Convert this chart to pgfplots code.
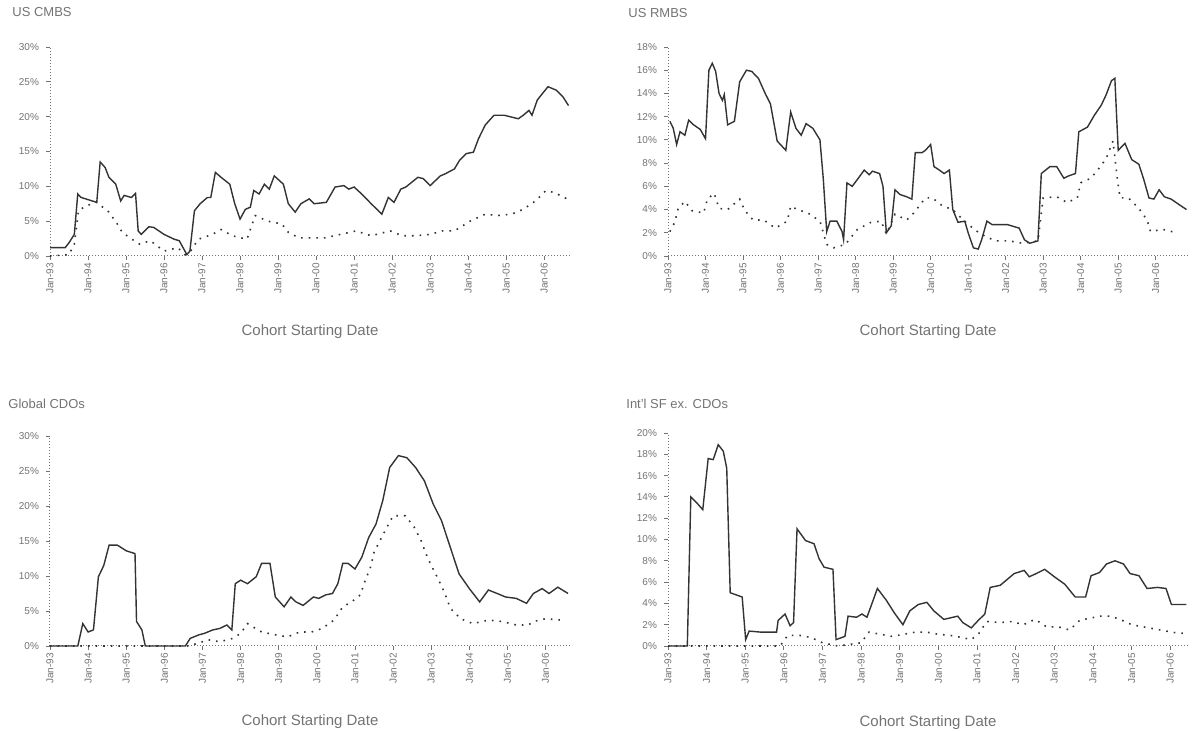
\documentclass[border=0pt]{standalone}
\usepackage{pgfplots}
\pgfplotsset{compat=1.18}
\usepackage{fontspec}
\setmainfont{Liberation Sans}
\definecolor{txt}{gray}{0.45}
\definecolor{ln}{gray}{0.2}
\pgfplotsset{
  panel/.style={
    scale only axis, width=260pt, anchor=north west,
    xmin=1993,
    axis x line=bottom, axis y line=left,
    axis line style={-, black!55, densely dotted, line width=0.5pt},
    tick style={black!55, line width=0.4pt},
    major tick length=2pt, tick align=outside,
    xtick={1993,...,2006},
    xticklabels={Jan-93,Jan-94,Jan-95,Jan-96,Jan-97,Jan-98,Jan-99,Jan-00,Jan-01,Jan-02,Jan-03,Jan-04,Jan-05,Jan-06},
    x tick label style={rotate=90, anchor=east, font=\fontsize{5}{6}\selectfont, text=txt, inner sep=1.5pt},
    y tick label style={font=\fontsize{5}{6}\selectfont, text=txt},
    xlabel={Cohort Starting Date},
    xlabel style={at={(axis description cs:0.5,-0.36)}, anchor=center, font=\fontsize{7.5}{8.5}\selectfont, text=txt},
    clip=false,
  },
  s1/.style={ln, line width=0.7pt},
  s2/.style={ln, line width=0.8pt, dash pattern=on 0.8pt off 3pt},
}
\begin{document}
\begin{tikzpicture}
\useasboundingbox (0,0) rectangle (597pt,-365.5pt);
% ---------------- US CMBS ----------------
\node[anchor=north west, font=\fontsize{6.5}{7.5}\selectfont, text=txt, inner sep=0pt] at (6pt,-3.5pt) {US CMBS};
\begin{axis}[panel, at={(25pt,-23.5pt)}, height=104.5pt, xmax=2006.68, ymin=0, ymax=30,
  ytick={0,5,10,15,20,25,30}, yticklabels={0\%,5\%,10\%,15\%,20\%,25\%,30\%}]
\addplot[s1] coordinates {(1993,1.2)(1993.4,1.2)(1993.5,1.9)(1993.64,3.1)(1993.73,8.9)(1993.82,8.4)(1994.23,7.7)(1994.32,13.5)(1994.45,12.7)(1994.55,11.3)(1994.73,10.3)(1994.86,7.9)(1994.95,8.7)(1995.14,8.4)(1995.25,9.0)(1995.32,3.6)(1995.4,3.1)(1995.6,4.2)(1995.73,4.1)(1996.0,3.1)(1996.27,2.4)(1996.4,2.2)(1996.5,1.2)(1996.6,0.2)(1996.68,0.7)(1996.8,6.5)(1996.95,7.5)(1997.14,8.4)(1997.23,8.4)(1997.35,12.0)(1997.5,11.3)(1997.73,10.3)(1997.86,7.5)(1998.0,5.3)(1998.14,6.7)(1998.27,7.0)(1998.36,9.4)(1998.5,8.9)(1998.64,10.3)(1998.77,9.6)(1998.9,11.5)(1999.14,10.3)(1999.27,7.5)(1999.45,6.3)(1999.6,7.5)(1999.82,8.2)(1999.95,7.5)(2000.27,7.7)(2000.5,9.9)(2000.73,10.1)(2000.86,9.6)(2001.0,9.9)(2001.2,8.9)(2001.45,7.5)(2001.73,6.0)(2001.9,8.4)(2002.05,7.7)(2002.23,9.6)(2002.36,9.9)(2002.68,11.3)(2002.82,11.1)(2003.0,10.1)(2003.27,11.5)(2003.4,11.8)(2003.64,12.5)(2003.77,13.7)(2003.95,14.7)(2004.14,14.9)(2004.27,16.8)(2004.45,18.8)(2004.68,20.2)(2004.95,20.2)(2005.32,19.7)(2005.45,20.2)(2005.6,20.9)(2005.68,20.2)(2005.82,22.4)(2006.1,24.3)(2006.32,23.8)(2006.5,22.8)(2006.64,21.6)};
\addplot[s2] coordinates {(1993,0)(1993.5,0.2)(1993.64,1.7)(1993.75,6.5)(1993.95,7.2)(1994.23,7.7)(1994.55,6.3)(1994.77,4.6)(1994.9,3.4)(1995.1,2.6)(1995.36,1.7)(1995.64,2.2)(1996.0,0.7)(1996.36,1.2)(1996.55,0.2)(1996.7,0.7)(1996.9,2.4)(1997.27,3.1)(1997.5,3.8)(1997.8,2.9)(1998.18,2.4)(1998.3,4.3)(1998.4,5.8)(1998.73,5.0)(1999.1,4.6)(1999.27,3.4)(1999.55,2.6)(1999.95,2.6)(2000.23,2.6)(2000.64,3.1)(2001.05,3.6)(2001.45,2.9)(2001.95,3.6)(2002.27,2.9)(2002.6,2.9)(2003.0,3.1)(2003.32,3.6)(2003.64,3.6)(2004.05,5.0)(2004.45,6.0)(2004.77,5.8)(2005.14,6.0)(2005.45,6.7)(2005.77,7.9)(2006.05,9.4)(2006.27,9.1)(2006.6,8.2)};
\end{axis}
% ---------------- US RMBS ----------------
\node[anchor=north west, font=\fontsize{6.5}{7.5}\selectfont, text=txt, inner sep=0pt] at (314pt,-4pt) {US RMBS};
\begin{axis}[panel, at={(334pt,-23.5pt)}, height=104.5pt, xmax=2006.86, ymin=0, ymax=18,
  ytick={0,2,4,6,8,10,12,14,16,18}, yticklabels={0\%,2\%,4\%,6\%,8\%,10\%,12\%,14\%,16\%,18\%}]
\addplot[s1] coordinates {(1993.05,11.6)(1993.14,11.0)(1993.23,9.6)(1993.32,10.7)(1993.45,10.4)(1993.55,11.7)(1993.68,11.3)(1993.86,10.9)(1994.0,10.1)(1994.09,16.0)(1994.18,16.6)(1994.27,15.9)(1994.36,14.0)(1994.45,13.4)(1994.5,13.9)(1994.59,11.3)(1994.77,11.6)(1994.91,15.0)(1995.09,16.0)(1995.23,15.9)(1995.41,15.3)(1995.59,14.0)(1995.73,13.1)(1995.91,9.9)(1996.14,9.1)(1996.27,12.4)(1996.41,11.0)(1996.55,10.4)(1996.68,11.4)(1996.86,11.0)(1997.05,10.0)(1997.14,6.6)(1997.23,2.1)(1997.32,3.0)(1997.5,3.0)(1997.64,2.1)(1997.68,1.4)(1997.77,6.3)(1997.91,6.0)(1998.05,6.6)(1998.23,7.4)(1998.36,7.0)(1998.45,7.3)(1998.64,7.1)(1998.73,6.0)(1998.82,2.0)(1998.95,2.6)(1999.05,5.7)(1999.18,5.3)(1999.36,5.1)(1999.5,4.9)(1999.59,8.9)(1999.77,8.9)(1999.86,9.1)(2000.0,9.6)(2000.09,7.7)(2000.23,7.4)(2000.36,7.1)(2000.5,7.4)(2000.59,4.0)(2000.73,2.9)(2000.91,3.0)(2001.0,2.0)(2001.14,0.7)(2001.27,0.6)(2001.36,1.4)(2001.5,3.0)(2001.64,2.7)(2001.86,2.7)(2002.05,2.7)(2002.36,2.4)(2002.5,1.4)(2002.64,1.1)(2002.86,1.3)(2002.95,7.1)(2003.18,7.7)(2003.36,7.7)(2003.55,6.7)(2003.68,6.9)(2003.86,7.1)(2003.95,10.7)(2004.18,11.1)(2004.36,12.1)(2004.55,13.0)(2004.68,13.9)(2004.82,15.1)(2004.91,15.3)(2005.0,9.1)(2005.18,9.7)(2005.36,8.3)(2005.55,7.9)(2005.68,6.6)(2005.82,5.0)(2005.95,4.9)(2006.09,5.7)(2006.23,5.1)(2006.41,4.9)(2006.68,4.3)(2006.82,4.0)};
\addplot[s2] coordinates {(1993.05,2.1)(1993.18,2.9)(1993.27,4.1)(1993.45,4.7)(1993.64,3.9)(1993.95,3.7)(1994.05,4.9)(1994.23,5.4)(1994.36,4.1)(1994.59,4.0)(1994.91,4.9)(1995.05,3.9)(1995.27,3.1)(1995.55,3.1)(1995.86,2.4)(1996.18,3.0)(1996.27,4.3)(1996.45,4.0)(1996.73,3.7)(1997.05,3.0)(1997.23,1.0)(1997.41,0.7)(1997.73,1.0)(1998.05,2.3)(1998.23,2.6)(1998.41,2.9)(1998.68,3.0)(1998.82,1.9)(1999.05,3.6)(1999.36,3.1)(1999.55,3.7)(1999.86,5.0)(2000.05,5.0)(2000.32,4.3)(2000.59,4.0)(2000.9,3.0)(2001.2,2.2)(2001.45,1.7)(2001.73,1.3)(2002.09,1.3)(2002.45,1.1)(2002.86,1.3)(2003.0,5.0)(2003.36,5.1)(2003.64,4.6)(2003.91,5.0)(2004.0,6.3)(2004.27,6.7)(2004.5,7.6)(2004.68,8.4)(2004.86,9.9)(2004.95,7.4)(2005.0,6.1)(2005.05,5.0)(2005.27,5.0)(2005.55,4.1)(2005.77,3.1)(2005.86,2.1)(2006.18,2.3)(2006.55,2.0)};
\end{axis}
% ---------------- Global CDOs ----------------
\node[anchor=north west, font=\fontsize{6.5}{7.5}\selectfont, text=txt, inner sep=0pt] at (4pt,-199.5pt) {Global CDOs};
\begin{axis}[panel, at={(25pt,-218pt)}, height=105pt, xmax=2006.64, ymin=0, ymax=30,
  ytick={0,5,10,15,20,25,30}, yticklabels={0\%,5\%,10\%,15\%,20\%,25\%,30\%}]
\addplot[s1] coordinates {(1993,0)(1993.73,0)(1993.86,3.2)(1994.0,2.0)(1994.14,2.3)(1994.27,9.9)(1994.41,11.5)(1994.55,14.4)(1994.77,14.4)(1995.0,13.6)(1995.23,13.2)(1995.27,3.5)(1995.41,2.3)(1995.5,0)(1996.55,0)(1996.68,1.1)(1996.91,1.6)(1997.05,1.8)(1997.27,2.3)(1997.45,2.5)(1997.64,3.0)(1997.77,2.3)(1997.86,8.9)(1998.0,9.4)(1998.18,8.9)(1998.41,9.9)(1998.55,11.8)(1998.77,11.8)(1998.91,7.0)(1999.14,5.6)(1999.32,7.0)(1999.45,6.3)(1999.64,5.8)(1999.91,7.0)(2000.05,6.8)(2000.23,7.3)(2000.41,7.5)(2000.55,8.9)(2000.68,11.8)(2000.82,11.8)(2001.0,11.0)(2001.18,12.7)(2001.36,15.5)(2001.55,17.4)(2001.73,20.8)(2001.91,25.5)(2002.14,27.2)(2002.36,26.9)(2002.59,25.5)(2002.82,23.6)(2003.05,20.3)(2003.27,17.9)(2003.5,14.1)(2003.73,10.3)(2004.0,8.2)(2004.27,6.3)(2004.5,8.0)(2004.73,7.5)(2004.95,7.0)(2005.23,6.8)(2005.5,6.1)(2005.68,7.5)(2005.91,8.2)(2006.09,7.5)(2006.32,8.4)(2006.59,7.5)};
\addplot[s2] coordinates {(1993,0)(1996.6,0)(1996.9,0.4)(1997.14,0.9)(1997.45,0.6)(1997.8,1.1)(1998.0,1.8)(1998.18,3.2)(1998.55,2.0)(1998.91,1.6)(1999.23,1.3)(1999.55,2.0)(1999.86,2.0)(2000.14,2.5)(2000.45,3.7)(2000.68,5.6)(2000.91,6.3)(2001.14,7.3)(2001.27,9.4)(2001.41,11.3)(2001.5,13.4)(2001.68,15.3)(2001.86,17.2)(2002.0,18.6)(2002.32,18.6)(2002.55,17.0)(2002.73,15.1)(2002.86,13.2)(2003.0,11.5)(2003.18,9.6)(2003.36,7.5)(2003.5,5.4)(2003.77,3.9)(2004.09,3.2)(2004.5,3.7)(2004.86,3.5)(2005.23,3.0)(2005.55,3.0)(2005.68,3.5)(2006.0,3.9)(2006.41,3.7)};
\end{axis}
% ---------------- Int'l SF ex. CDOs ----------------
\node[anchor=north west, font=\fontsize{6.5}{7.5}\selectfont, text=txt, inner sep=0pt] at (313pt,-199.5pt) {Int'l SF ex. CDOs};
\begin{axis}[panel, at={(334pt,-216.5pt)}, height=106.5pt, xmax=2006.46, ymin=0, ymax=20,
  ytick={0,2,4,6,8,10,12,14,16,18,20}, yticklabels={0\%,2\%,4\%,6\%,8\%,10\%,12\%,14\%,16\%,18\%,20\%}]
\addplot[s1] coordinates {(1993,0)(1993.5,0)(1993.59,14.0)(1993.73,13.5)(1993.9,12.8)(1994.04,17.6)(1994.17,17.5)(1994.3,18.9)(1994.43,18.3)(1994.52,16.7)(1994.61,5.0)(1994.92,4.6)(1995.01,0.6)(1995.1,1.4)(1995.41,1.3)(1995.81,1.3)(1995.85,2.4)(1996.03,3.0)(1996.16,1.9)(1996.25,2.2)(1996.34,11.0)(1996.56,9.9)(1996.78,9.6)(1996.91,8.2)(1997.04,7.4)(1997.27,7.2)(1997.35,0.6)(1997.58,0.9)(1997.66,2.8)(1997.88,2.7)(1998.02,3.0)(1998.15,2.7)(1998.42,5.4)(1998.65,4.3)(1998.86,3.1)(1999.08,2.0)(1999.26,3.3)(1999.48,3.9)(1999.7,4.1)(1999.88,3.3)(2000.14,2.5)(2000.5,2.8)(2000.63,2.2)(2000.85,1.7)(2001.03,2.4)(2001.2,3.0)(2001.34,5.5)(2001.6,5.7)(2001.73,6.1)(2001.96,6.8)(2002.22,7.1)(2002.35,6.5)(2002.53,6.8)(2002.75,7.2)(2003.0,6.5)(2003.27,5.8)(2003.54,4.6)(2003.81,4.6)(2003.95,6.6)(2004.17,6.9)(2004.35,7.7)(2004.57,8.0)(2004.79,7.7)(2004.96,6.8)(2005.19,6.6)(2005.4,5.4)(2005.67,5.5)(2005.89,5.4)(2006.03,3.9)(2006.42,3.9)};
\addplot[s2] coordinates {(1993,0)(1995.9,0)(1996.1,1.0)(1996.4,1.0)(1996.7,0.8)(1997.0,0.3)(1997.4,0)(1998.0,0.3)(1998.2,1.3)(1998.5,1.1)(1998.8,0.9)(1999.1,1.1)(1999.4,1.3)(1999.7,1.3)(2000.0,1.1)(2000.3,1.0)(2000.6,0.8)(2000.85,0.6)(2001.05,1.2)(2001.25,2.3)(2001.6,2.2)(2001.9,2.3)(2002.2,2.0)(2002.5,2.5)(2002.8,1.8)(2003.1,1.8)(2003.4,1.5)(2003.65,2.4)(2003.9,2.6)(2004.2,2.8)(2004.45,2.8)(2004.7,2.5)(2005.0,2.0)(2005.3,1.8)(2005.6,1.6)(2005.9,1.4)(2006.2,1.2)(2006.42,1.2)};
\end{axis}
\end{tikzpicture}
\end{document}
